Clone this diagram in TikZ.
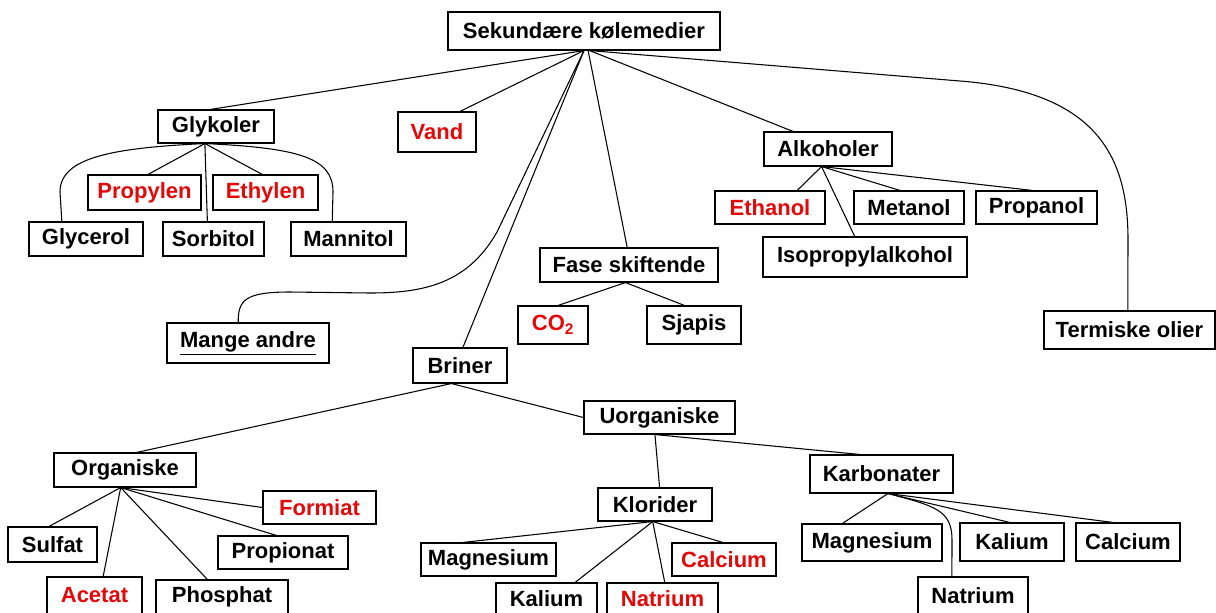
\documentclass[tikz,border=0pt]{standalone}
\usepackage{fontspec}
\setmainfont{Liberation Sans}
\usetikzlibrary{calc}
\definecolor{hl}{RGB}{228,8,8}
% points along the top / bottom edge of a box
\newcommand\topat[2]{($(#1.north west)!#2!(#1.north east)$)}
\newcommand\botat[2]{($(#1.south west)!#2!(#1.south east)$)}
\tikzset{
  box/.style={draw=black, line width=0.8pt, fill=white, inner sep=0pt,
              font=\fontsize{16.5}{19}\selectfont\bfseries},
  hot/.style={box, text=hl},
  link/.style={line width=0.8pt},
}
% \bx{name}{style}{text}{left}{right}{top}{bottom}
\newcommand\bx[7]{\node[#2, minimum width={(#5-#4)*0.75pt}, minimum height={(#7-#6)*0.75pt}]
  (#1) at ({(#4+#5)/2},{(#6+#7)/2}) {#3};}
\begin{document}
\begin{tikzpicture}[x=0.75pt,y=-0.75pt]
\useasboundingbox (0,0) rectangle (1216,612);

% top level
\bx{sek}{box}{Sekundære kølemedier}{448}{720}{12}{50}
\bx{gly}{box}{Glykoler}{158}{274}{110}{143}
\bx{vand}{hot}{Vand}{398}{476}{112}{152}
\bx{alk}{box}{Alkoholer}{764}{892}{132}{166}
\bx{fase}{box}{Fase skiftende}{540}{718}{248}{282}
\bx{mange}{box}{\underline{Mange andre}}{167}{329}{323}{363}
\bx{briner}{box}{Briner}{413}{507}{348}{383}
\bx{term}{box}{Termiske olier}{1044}{1215}{311}{349}

% glycols
\bx{propylen}{hot}{Propylen}{88}{201}{175}{210}
\bx{ethylen}{hot}{Ethylen}{213}{318}{175}{210}
\bx{glycerol}{box}{Glycerol}{29}{143}{222}{256}
\bx{sorbitol}{box}{Sorbitol}{163}{264}{222}{256}
\bx{mannitol}{box}{Mannitol}{291}{406}{222}{256}

% alcohols
\bx{ethanol}{hot}{Ethanol}{715}{825}{191}{224}
\bx{metanol}{box}{Metanol}{854}{964}{191}{224}
\bx{propanol}{box}{Propanol}{976}{1097}{191}{224}
\bx{iso}{box}{Isopropylalkohol}{763}{967}{237}{277}

% phase change
\bx{co2}{hot}{CO\textsubscript{2}}{518}{588}{306}{344}
\bx{sjapis}{box}{Sjapis}{647}{741}{306}{344}

% brines
\bx{uorg}{box}{Uorganiske}{584}{735}{401}{434}
\bx{org}{box}{Organiske}{54}{196}{453}{487}
\bx{formiat}{hot}{Formiat}{263}{376}{491}{524}
\bx{sulfat}{box}{Sulfat}{8}{97}{527}{562}
\bx{propionat}{box}{Propionat}{218}{348}{536}{569}
\bx{acetat}{hot}{Acetat}{47}{142}{577}{614}
\bx{phosphat}{box}{Phosphat}{156}{288}{580}{614}

\bx{klor}{box}{Klorider}{598}{712}{488}{521}
\bx{magK}{box}{Magnesium}{421}{556}{543}{576}
\bx{calK}{hot}{Calcium}{672}{776}{543}{576}
\bx{kalK}{box}{Kalium}{496}{597}{583}{614}
\bx{natK}{hot}{Natrium}{607}{718}{583}{614}

\bx{karb}{box}{Karbonater}{810}{953}{455}{493}
\bx{magC}{box}{Magnesium}{802}{942}{524}{561}
\bx{kalC}{box}{Kalium}{960}{1064}{523}{561}
\bx{calC}{box}{Calcium}{1076}{1180}{523}{561}
\bx{natC}{box}{Natrium}{918}{1028}{577}{614}

% connectors from the root
\draw[link] \botat{sek}{0.5} -- \topat{gly}{0.45};
\draw[link] \botat{sek}{0.5} -- \topat{vand}{0.79};
\draw[link] \botat{sek}{0.5} -- \topat{briner}{0.53};
\draw[link] \botat{sek}{0.5} -- (497,232) .. controls (468,283) and (425,293) .. (370,293)
  -- (290,292) .. controls (245,292) and (238,300) .. \topat{mange}{0.44};
\draw[link] \botat{sek}{0.515} -- \topat{fase}{0.49};
\draw[link] \botat{sek}{0.52} -- \topat{alk}{0.23};
\draw[link] \botat{sek}{0.52} -- (960,81) .. controls (1100,92) and (1128,160) .. (1128,240)
  -- \topat{term}{0.49};

% glycols
\draw[link] \botat{gly}{0.405} -- \topat{propylen}{0.53};
\draw[link] \botat{gly}{0.405} -- \topat{ethylen}{0.47};
\draw[link] \botat{gly}{0.405} -- \topat{sorbitol}{0.44};
\draw[link] \botat{gly}{0.405} .. controls (110,148) and (60,158) .. (60,192) -- \topat{glycerol}{0.29};
\draw[link] \botat{gly}{0.405} .. controls (300,148) and (333,158) .. (333,192) -- \topat{mannitol}{0.36};

% alcohols
\draw[link] \botat{alk}{0.45} -- \topat{ethanol}{0.745};
\draw[link] \botat{alk}{0.45} -- \topat{iso}{0.45};
\draw[link] \botat{alk}{0.45} -- \topat{metanol}{0.42};
\draw[link] \botat{alk}{0.45} -- \topat{propanol}{0.47};

% phase change
\draw[link] \botat{fase}{0.48} -- \topat{co2}{0.57};
\draw[link] \botat{fase}{0.48} -- \topat{sjapis}{0.40};

% brines
\draw[link] \botat{briner}{0.41} -- \topat{org}{0.58};
\draw[link] \botat{briner}{0.41} -- (uorg.west);

\draw[link] \botat{org}{0.47} -- \topat{sulfat}{0.46};
\draw[link] \botat{org}{0.47} -- \topat{acetat}{0.59};
\draw[link] \botat{org}{0.47} -- \topat{phosphat}{0.39};
\draw[link] \botat{org}{0.47} -- \topat{propionat}{0.45};
\draw[link] \botat{org}{0.47} -- (formiat.west);

\draw[link] \botat{uorg}{0.47} -- \topat{klor}{0.54};
\draw[link] \botat{uorg}{0.47} -- \topat{karb}{0.35};

\draw[link] \botat{klor}{0.48} -- \topat{magK}{0.31};
\draw[link] \botat{klor}{0.48} -- \topat{kalK}{0.78};
\draw[link] \botat{klor}{0.48} -- \topat{natK}{0.52};
\draw[link] \botat{klor}{0.48} -- \topat{calK}{0.49};

\draw[link] \botat{karb}{0.545} -- \topat{magC}{0.29};
\draw[link] \botat{karb}{0.545} -- \topat{kalC}{0.48};
\draw[link] \botat{karb}{0.545} -- \topat{calC}{0.36};
\draw[link] \botat{karb}{0.545} .. controls (935,506) and (952,510) .. (952,540) -- \topat{natC}{0.31};
\end{tikzpicture}
\end{document}
